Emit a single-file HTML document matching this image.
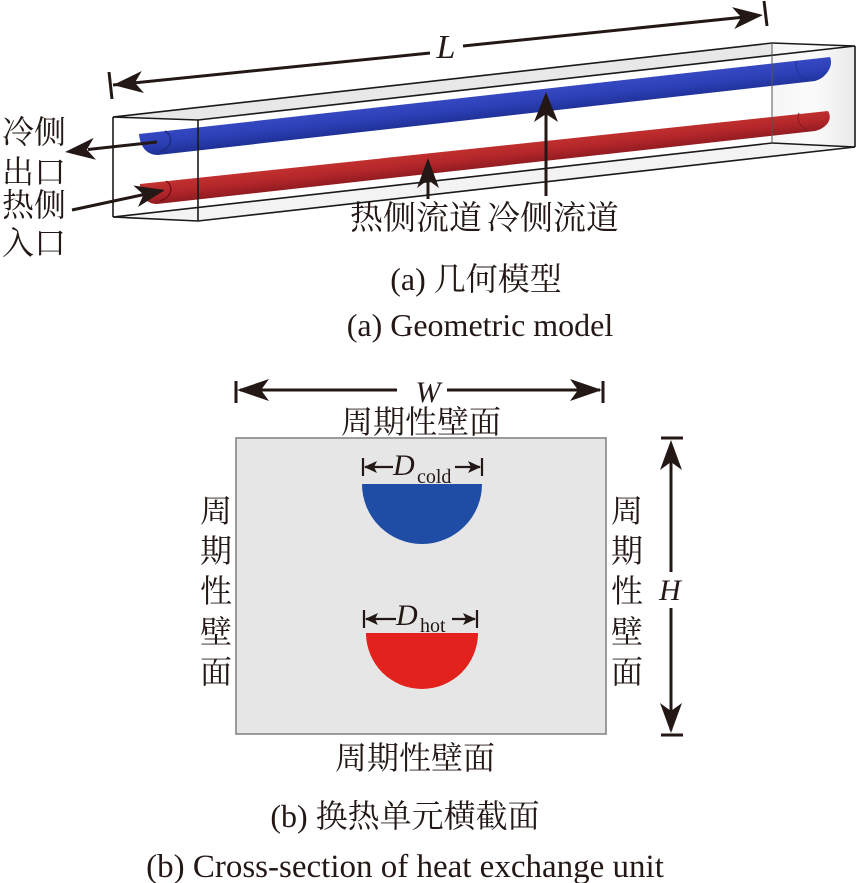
<!DOCTYPE html>
<html>
<head>
<meta charset="utf-8">
<style>
  html,body{margin:0;padding:0;background:#fff;}
  svg{display:block;}
  .cn{font-family:"Liberation Serif","Noto Serif CJK SC",serif;fill:#231815;}
  .en{font-family:"Liberation Serif",serif;fill:#231815;}
  .it{font-family:"Liberation Serif",serif;font-style:italic;fill:#231815;}
</style>
</head>
<body>
<svg width="857" height="883" viewBox="0 0 857 883" xmlns="http://www.w3.org/2000/svg">
  <defs>
    <linearGradient id="gb" gradientUnits="userSpaceOnUse" x1="430" y1="101.5" x2="432.5" y2="124.5">
      <stop offset="0" stop-color="#3548c2"/>
      <stop offset="0.5" stop-color="#2c40b6"/>
      <stop offset="1" stop-color="#1f3096"/>
    </linearGradient>
    <linearGradient id="gr" gradientUnits="userSpaceOnUse" x1="430" y1="153" x2="432.3" y2="174">
      <stop offset="0" stop-color="#c2302f"/>
      <stop offset="0.5" stop-color="#b2262a"/>
      <stop offset="1" stop-color="#901b20"/>
    </linearGradient>
    <linearGradient id="gback" x1="0" y1="0" x2="1" y2="0">
      <stop offset="0" stop-color="#f6f6f6"/>
      <stop offset="0.5" stop-color="#fbfbfb"/>
      <stop offset="1" stop-color="#e9e9e9"/>
    </linearGradient>
  </defs>
  <rect width="857" height="883" fill="#fff"/>

  <!-- ===== (a) geometric model ===== -->
  <polygon points="113,117 772,43 855,46 198,120" fill="#e8e8e8"/>
  <polygon points="113,217 772,143 855,146 198,221" fill="#f3f3f3"/>
  <polygon points="772,43 855,46 855,146 772,143" fill="url(#gback)"/>

  <!-- pipes -->
  <path d="M139,134 L830,57 C834,66 826,78 815,81 L158,155 C146,155 140,146 139,134 Z" fill="url(#gb)"/>
  <path d="M165,131 C174,136 172,147 160,152" stroke="#1b2a7a" stroke-width="1.3" fill="none"/>
  <path d="M797,61 C794,68 798,76 806,79" stroke="#22339a" stroke-width="1" fill="none"/>

  <path d="M140,184 L828,111 C833,119 827,128 815,131 L157,204 C146,204 140,195 140,184 Z" fill="url(#gr)"/>
  <path d="M166,181 C174,186 172,197 160,201" stroke="#6e1015" stroke-width="1.3" fill="none"/>
  <path d="M799,113 C796,120 800,127 808,130" stroke="#8a1a1e" stroke-width="1" fill="none"/>

  <!-- box edges -->
  <g stroke="#1a1a1a" stroke-width="1.6" fill="none">
    <line x1="113" y1="117" x2="772" y2="43"/>
    <line x1="198" y1="120" x2="855" y2="46"/>
    <line x1="113" y1="217" x2="772" y2="143"/>
    <line x1="198" y1="221" x2="855" y2="147"/>
    <line x1="113" y1="117" x2="198" y2="120"/>
    <line x1="113" y1="117" x2="113" y2="217"/>
    <line x1="198" y1="120" x2="198" y2="221"/>
    <line x1="113" y1="217" x2="198" y2="221"/>
    <line x1="855" y1="46" x2="855" y2="147"/>
    <line x1="772" y1="43" x2="855" y2="46"/>
    <line x1="772" y1="143" x2="855" y2="147"/>
  </g>
  <line x1="772" y1="43" x2="772" y2="143" stroke="#555" stroke-width="1"/>

  <!-- L dimension -->
  <g stroke="#231815" stroke-width="3" fill="none">
    <line x1="113" y1="85" x2="430" y2="53"/>
    <line x1="463" y1="46" x2="745" y2="17"/>
    <line x1="109" y1="72" x2="112" y2="99"/>
    <line x1="764" y1="1" x2="767" y2="26"/>
  </g>
  <g fill="#231815">
    <polygon points="113,85 141.75,71.04 134.89,82.79 143.95,92.94"/>
    <polygon points="763,15 734.29,29.02 741.12,17.26 732.03,7.14"/>
  </g>
  <text class="it" x="446" y="58" font-size="34" text-anchor="middle">L</text>

  <!-- leader arrows -->
  <g stroke="#231815" stroke-width="3" fill="none">
    <line x1="157" y1="142" x2="88" y2="149.5"/>
    <line x1="72" y1="210" x2="144" y2="194.5"/>
    <line x1="428" y1="199" x2="428" y2="180"/>
    <line x1="546" y1="196" x2="546" y2="114"/>
  </g>
  <g fill="#231815">
    <polygon points="65,152 93.64,137.82 86.87,149.62 96.02,159.70"/>
    <polygon points="165,190 137.97,207.06 143.5,194.62 133.35,185.54"/>
    <polygon points="428,158 439,188 428,180 417,188"/>
    <polygon points="546,92 558,122 546,114 534,122"/>
  </g>

  <!-- labels -->
  <text class="cn" x="34" y="143" font-size="32" text-anchor="middle">冷侧</text>
  <text class="cn" x="34" y="183" font-size="32" text-anchor="middle">出口</text>
  <text class="cn" x="34" y="216" font-size="32" text-anchor="middle">热侧</text>
  <text class="cn" x="34" y="254" font-size="32" text-anchor="middle">入口</text>
  <text class="cn" x="416" y="229" font-size="33" text-anchor="middle">热侧流道</text>
  <text class="cn" x="553" y="229" font-size="33" text-anchor="middle">冷侧流道</text>

  <text class="cn" x="476" y="290" font-size="32" text-anchor="middle">(a) 几何模型</text>
  <text class="en" x="480" y="336" font-size="32" text-anchor="middle">(a) Geometric model</text>

  <!-- ===== (b) cross-section ===== -->
  <g stroke="#231815" stroke-width="3" fill="none">
    <line x1="236" y1="381" x2="236" y2="403"/>
    <line x1="603" y1="381" x2="603" y2="403"/>
    <line x1="240" y1="390" x2="397" y2="390"/>
    <line x1="447" y1="390" x2="600" y2="390"/>
  </g>
  <g fill="#231815">
    <polygon points="237,390 269,379 261,390 269,401"/>
    <polygon points="602,390 570,379 578,390 570,401"/>
  </g>
  <text class="it" x="428" y="402" font-size="30" text-anchor="middle">W</text>

  <text class="cn" x="421" y="433" font-size="32" text-anchor="middle">周期性壁面</text>

  <rect x="236" y="438" width="370" height="296" fill="#e6e6e6" stroke="#858585" stroke-width="1.6"/>

  <path d="M362,484 A60,60 0 0 0 482,484 Z" fill="#1f4ca4"/>
  <path d="M366,633 A56,56 0 0 0 478,633 Z" fill="#e3221d"/>

  <g stroke="#231815" stroke-width="2.2" fill="none">
    <line x1="363" y1="458" x2="363" y2="476"/>
    <line x1="482" y1="458" x2="482" y2="476"/>
    <line x1="365" y1="467" x2="393" y2="467"/>
    <line x1="455" y1="467" x2="480" y2="467"/>
    <line x1="364" y1="610" x2="364" y2="628"/>
    <line x1="477" y1="610" x2="477" y2="628"/>
    <line x1="366" y1="619" x2="396" y2="619"/>
    <line x1="452" y1="619" x2="475" y2="619"/>
  </g>
  <g fill="#231815">
    <polygon points="364,467 377,461 374,467 377,473"/>
    <polygon points="481,467 468,461 471,467 468,473"/>
    <polygon points="365,619 378,613 375,619 378,625"/>
    <polygon points="476,619 463,613 466,619 463,625"/>
  </g>
  <text class="it" x="393" y="475" font-size="30">D</text>
  <text class="en" x="417" y="483" font-size="20">cold</text>
  <text class="it" x="396" y="625" font-size="30">D</text>
  <text class="en" x="420" y="632" font-size="20">hot</text>

  <g class="cn" font-size="32" text-anchor="middle">
    <text x="216" y="522">周</text>
    <text x="216" y="562">期</text>
    <text x="216" y="602">性</text>
    <text x="216" y="643">壁</text>
    <text x="216" y="683">面</text>
    <text x="627" y="522">周</text>
    <text x="627" y="562">期</text>
    <text x="627" y="602">性</text>
    <text x="627" y="643">壁</text>
    <text x="627" y="683">面</text>
  </g>

  <g stroke="#231815" stroke-width="3" fill="none">
    <line x1="661" y1="438" x2="683" y2="438"/>
    <line x1="661" y1="735" x2="683" y2="735"/>
    <line x1="671" y1="444" x2="671" y2="572"/>
    <line x1="671" y1="608" x2="671" y2="730"/>
  </g>
  <g fill="#231815">
    <polygon points="671,440 682,470 671,462 660,470"/>
    <polygon points="671,733 682,703 671,711 660,703"/>
  </g>
  <text class="it" x="670" y="600" font-size="30" text-anchor="middle">H</text>

  <text class="cn" x="415" y="769" font-size="32" text-anchor="middle">周期性壁面</text>

  <text class="cn" x="405" y="827" font-size="32" text-anchor="middle">(b) 换热单元横截面</text>
  <text class="en" x="405" y="877" font-size="33" text-anchor="middle">(b) Cross-section of heat exchange unit</text>
</svg>
</body>
</html>
